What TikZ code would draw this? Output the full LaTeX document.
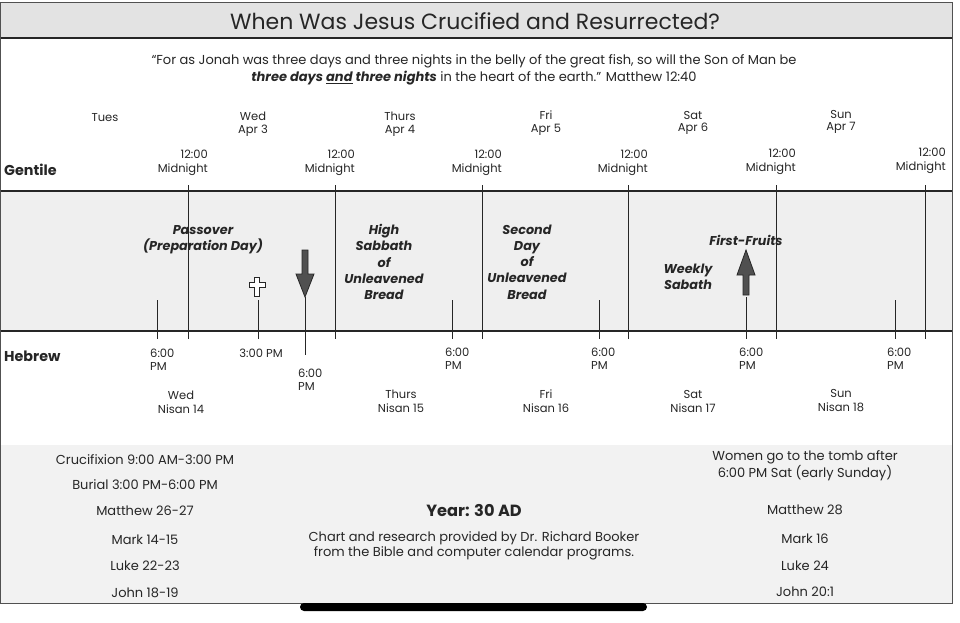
\documentclass[tikz,border=0pt]{standalone}
\usepackage{fontspec}
\setmainfont{Poppins}
\usetikzlibrary{positioning}
\definecolor{titlegray}{HTML}{E3E3E3}
\definecolor{bandgray}{HTML}{EFEFEF}
\definecolor{footgray}{HTML}{F2F2F2}
\definecolor{ink}{HTML}{262626}
\definecolor{arrowgray}{HTML}{505050}

\begin{document}
\begin{tikzpicture}[x=1pt,y=-1pt,
    every node/.style={text=ink, inner sep=0pt, align=center},
    daylbl/.style  = {font=\fontsize{11.5}{12.5}\selectfont},
    midlbl/.style  = {font=\fontsize{11.5}{14}\selectfont, align=right, anchor=east},
    pmlbl/.style   = {font=\fontsize{11.5}{13}\selectfont, align=left, anchor=west},
    nisanlbl/.style= {font=\fontsize{11.5}{14}\selectfont},
    feast/.style   = {font=\fontsize{12.8}{16.3}\selectfont\bfseries\itshape},
    side/.style    = {font=\bfseries\fontsize{14.3}{16}\selectfont, anchor=west},
    foot/.style    = {font=\fontsize{13}{15.5}\selectfont},
    rule/.style    = {line width=1.6pt, ink},
    tick/.style    = {line width=0.8pt, ink},
  ]
  \useasboundingbox (0,0) rectangle (960,623);
  \fill[white] (0,0) rectangle (960,623);
  % bands
  \fill[titlegray] (0.5,3) rectangle (952,38);
  \fill[bandgray] (0.5,191) rectangle (952,331);
  \fill[footgray] (0.5,445) rectangle (952,603);
  \draw[line width=1pt, ink!80] (0.5,3) rectangle (952,603);
  \draw[rule] (0.5,38) -- (952,38);
  \draw[rule] (0.5,191) -- (952,191);
  \draw[rule] (0.5,331) -- (952,331);
  \fill[black, rounded corners=4pt] (300,603) rectangle (647,611);

  \node[font=\fontsize{22}{24}\selectfont] (ttl) at (475,21) {When Was Jesus Crucified and Resurrected?};
  \node[font=\fontsize{13}{17}\selectfont] (qt) at (474,70) {%
    “For as Jonah was three days and three nights in the belly of the great fish, so will the Son of Man be\\
    {\bfseries\itshape three days \underline{and} three nights} in the heart of the earth.” Matthew 12:40};

  \node[side] (gen) at (4,170) {Gentile};
  \node[side] (heb) at (4,356) {Hebrew};

  % gentile days
  \node[daylbl] (tue) at (105,118) {Tues};
  \node[daylbl] (wed) at (253,124) {Wed\\Apr 3};
  \node[daylbl] (thu) at (400,124) {Thurs\\Apr 4};
  \node[daylbl] (fri) at (546,123) {Fri\\Apr 5};
  \node[daylbl] (sat) at (693,123) {Sat\\Apr 6};
  \node[daylbl] (sun) at (841,122) {Sun\\Apr 7};

  \node[midlbl] (m1) at (208,163) {12:00\\Midnight};
  \node[midlbl] (m2) at (355,163) {12:00\\Midnight};
  \node[midlbl] (m3) at (502,163) {12:00\\Midnight};
  \node[midlbl] (m4) at (648,163) {12:00\\Midnight};
  \node[midlbl] (m5) at (796,162) {12:00\\Midnight};
  \node[midlbl] (m6) at (946,161) {12:00\\Midnight};

  % midnight lines
  \draw[tick] (188,185) -- (188,339);
  \draw[tick] (335,185) -- (335,339);
  \draw[tick] (482,185) -- (482,339);
  \draw[tick] (628,185) -- (628,339);
  \draw[tick] (776,185) -- (776,339);
  \draw[tick] (925,185) -- (925,339);

  % sunset ticks
  \draw[tick] (157,300) -- (157,339);
  \draw[tick] (258,300) -- (258,339);
  \draw[tick] (305,297) -- (305,355);
  \draw[tick] (452,300) -- (452,339);
  \draw[tick] (599,300) -- (599,339);
  \draw[tick] (746,297) -- (746,339);
  \draw[tick] (895,300) -- (895,339);

  % feasts
  \node[feast] (pass) at (203,240) {Passover\\(Preparation Day)};
  \node[feast] (hs) at (384,262) {High\\Sabbath\\of\\Unleavened\\Bread};
  \node[feast] (sd) at (527,262) {Second\\Day\\of\\Unleavened\\Bread};
  \node[feast] (ws) at (688,277) {Weekly\\Sabath};
  \node[feast] (ff) at (746,240) {First-Fruits};

  % cross, burial and resurrection
  \draw[fill=white, line width=0.9pt, draw=ink]
    (254.5,277) -- (259.5,277) -- (259.5,282) -- (265,282) -- (265,287)
    -- (259.5,287) -- (259.5,296) -- (254.5,296) -- (254.5,287) -- (249,287)
    -- (249,282) -- (254.5,282) -- cycle;
  \draw[fill=arrowgray, line width=0.8pt, draw=ink]
    (302,250) -- (308,250) -- (308,274) -- (314,274) -- (305,297)
    -- (296,274) -- (302,274) -- cycle;
  \draw[fill=arrowgray, line width=0.8pt, draw=ink]
    (743,295) -- (749,295) -- (749,275) -- (755,275) -- (746,250)
    -- (737,275) -- (743,275) -- cycle;

  % hebrew times
  \node[pmlbl] (pm1) at (150,360) {6:00\\PM};
  \node[daylbl] (pm3) at (261,353) {3:00 PM};
  \node[pmlbl] (pm2) at (298,380) {6:00\\PM};
  \node[pmlbl] (pm4) at (445,359) {6:00\\PM};
  \node[pmlbl] (pm5) at (591,359) {6:00\\PM};
  \node[pmlbl] (pm6) at (739,359) {6:00\\PM};
  \node[pmlbl] (pm7) at (887,359) {6:00\\PM};

  \node[nisanlbl] (n14) at (181,402) {Wed\\Nisan 14};
  \node[nisanlbl] (n15) at (401,401) {Thurs\\Nisan 15};
  \node[nisanlbl] (n16) at (546,401) {Fri\\Nisan 16};
  \node[nisanlbl] (n17) at (693,401) {Sat\\Nisan 17};
  \node[nisanlbl] (n18) at (841,401) {Sun\\Nisan 18};

  % footer
  \node[foot] (cru) at (145,460) {Crucifixion 9:00 AM-3:00 PM};
  \node[foot] (bur) at (145,485) {Burial 3:00 PM-6:00 PM};
  \node[foot] (mt1) at (145,511) {Matthew 26-27};
  \node[foot] (mk1) at (145,540) {Mark 14-15};
  \node[foot] (lk1) at (145,566) {Luke 22-23};
  \node[foot] (jn1) at (145,593) {John 18-19};

  \node[font=\bfseries\fontsize{16.2}{18}\selectfont] (yr) at (474,511) {Year: 30 AD};
  \node[foot] (cred) at (474,546) {Chart and research provided by Dr. Richard Booker\\from the Bible and computer calendar programs.};

  \node[foot] (wom) at (805,466) {Women go to the tomb after\\6:00 PM Sat (early Sunday)};
  \node[foot] (mt2) at (805,510) {Matthew 28};
  \node[foot] (mk2) at (805,539) {Mark 16};
  \node[foot] (lk2) at (805,566) {Luke 24};
  \node[foot] (jn2) at (805,592) {John 20:1};
\end{tikzpicture}
\end{document}
